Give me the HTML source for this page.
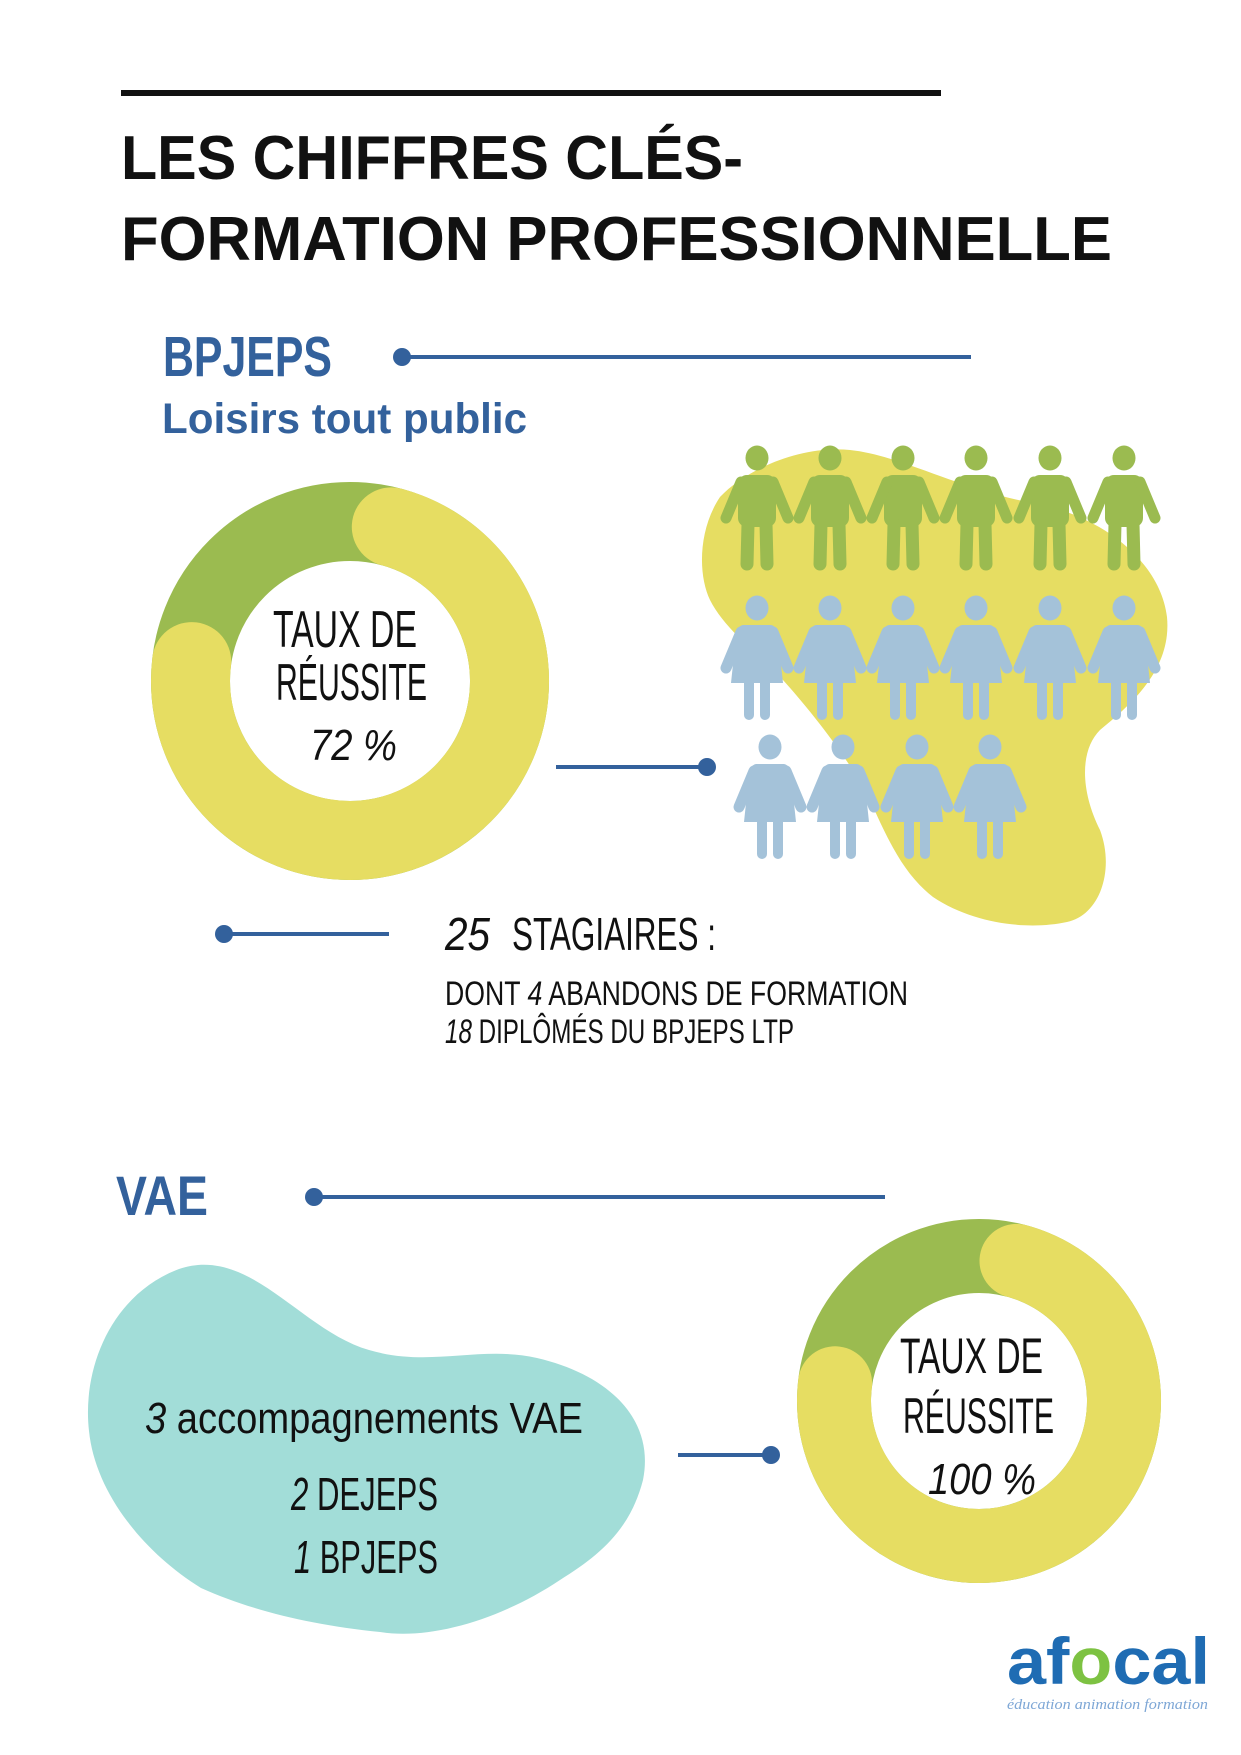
<!DOCTYPE html>
<html><head><meta charset="utf-8"><style>
html,body{margin:0;padding:0;background:#fff;}
svg{display:block;}
.c{font-family:"Liberation Sans Narrow","Liberation Sans",sans-serif;fill:#111;}
</style></head><body>
<svg width="1241" height="1755" viewBox="0 0 1241 1755" xmlns="http://www.w3.org/2000/svg">
<defs>
<g id="man" fill="#9bbb50" stroke="#9bbb50" stroke-linecap="round">
  <ellipse cx="0" cy="12" rx="11.5" ry="12.5" stroke="none"/>
  <rect x="-19" y="29" width="38" height="52" rx="9" stroke="none"/>
  <line x1="-16" y1="36" x2="-31" y2="72" stroke-width="11"/>
  <line x1="16" y1="36" x2="31" y2="72" stroke-width="11"/>
  <line x1="-9" y1="78" x2="-10" y2="118" stroke-width="13"/>
  <line x1="9" y1="78" x2="10" y2="118" stroke-width="13"/>
</g>
<g id="woman" fill="#a4c2d9" stroke="#a4c2d9" stroke-linecap="round">
  <ellipse cx="0" cy="12" rx="11.5" ry="12.5" stroke="none"/>
  <path d="M-14,29 L14,29 Q20,30 21,40 L26,87 L-26,87 L-21,40 Q-20,30 -14,29 Z" stroke="none"/>
  <line x1="-16" y1="36" x2="-31" y2="72" stroke-width="11"/>
  <line x1="16" y1="36" x2="31" y2="72" stroke-width="11"/>
  <line x1="-8" y1="85" x2="-8" y2="119" stroke-width="10"/>
  <line x1="8" y1="85" x2="8" y2="119" stroke-width="10"/>
</g>
</defs>

<!-- top line -->
<rect x="121" y="90" width="820" height="6" fill="#111"/>
<text x="121" y="179" font-family="Liberation Sans,sans-serif" font-weight="bold" font-size="62" fill="#111" textLength="622" lengthAdjust="spacingAndGlyphs">LES CHIFFRES CLÉS-</text>
<text x="121" y="260" font-family="Liberation Sans,sans-serif" font-weight="bold" font-size="62" fill="#111" textLength="991" lengthAdjust="spacingAndGlyphs">FORMATION PROFESSIONNELLE</text>

<!-- BPJEPS -->
<text x="163" y="376" font-family="Liberation Sans,sans-serif" font-weight="bold" font-size="57" fill="#33619c" textLength="169" lengthAdjust="spacingAndGlyphs">BPJEPS</text>
<text x="162" y="433" font-family="Liberation Sans,sans-serif" font-weight="bold" font-size="43" fill="#33619c" textLength="365" lengthAdjust="spacingAndGlyphs">Loisirs tout public</text>
<circle cx="402" cy="357" r="9" fill="#33619c"/>
<rect x="402" y="355" width="569" height="4" fill="#33619c"/>

<!-- donut 1 -->
<circle cx="350" cy="681" r="159.5" fill="none" stroke="#9bbb50" stroke-width="79"/>
<path d="M391.3,526.9 A159.5,159.5 0 1 1 191.7,661.6" fill="none" stroke="#e6dd62" stroke-width="79" stroke-linecap="round"/>
<text class="c" x="273" y="647" font-size="52" textLength="144" lengthAdjust="spacingAndGlyphs">TAUX DE</text>
<text class="c" x="276" y="700" font-size="52" textLength="151" lengthAdjust="spacingAndGlyphs">RÉUSSITE</text>
<text class="c" x="310" y="760" font-size="44" font-style="italic" textLength="87" lengthAdjust="spacingAndGlyphs">72 %</text>

<rect x="556" y="765" width="151" height="4" fill="#33619c"/>
<circle cx="707" cy="767" r="9" fill="#33619c"/>

<!-- yellow blob -->
<path d="M720,497 C745,470 800,445 850,450 C900,455 960,490 1033,503 C1100,515 1160,560 1167,617 C1172,670 1130,705 1100,730 C1080,750 1080,790 1100,830 C1115,870 1100,915 1067,922 C1030,930 975,925 933,897 C905,875 890,845 870,800 C850,760 810,710 783,680 C760,655 725,630 710,600 C698,575 698,530 720,497 Z" fill="#e6dd62"/>

<!-- people -->
<use href="#man" x="757" y="446"/>
<use href="#man" x="830" y="446"/>
<use href="#man" x="903" y="446"/>
<use href="#man" x="976" y="446"/>
<use href="#man" x="1050" y="446"/>
<use href="#man" x="1124" y="446"/>
<use href="#woman" x="757" y="596"/>
<use href="#woman" x="830" y="596"/>
<use href="#woman" x="903" y="596"/>
<use href="#woman" x="976" y="596"/>
<use href="#woman" x="1050" y="596"/>
<use href="#woman" x="1124" y="596"/>
<use href="#woman" x="770" y="735"/>
<use href="#woman" x="843" y="735"/>
<use href="#woman" x="917" y="735"/>
<use href="#woman" x="990" y="735"/>

<!-- stagiaires -->
<circle cx="224" cy="934" r="9" fill="#33619c"/>
<rect x="224" y="932" width="165" height="4" fill="#33619c"/>
<text class="c" x="445" y="950" font-size="46" font-style="italic" textLength="45" lengthAdjust="spacingAndGlyphs">25</text>
<text class="c" x="512" y="950" font-size="46" textLength="204" lengthAdjust="spacingAndGlyphs">STAGIAIRES :</text>
<text class="c" x="445" y="1005" font-size="34" textLength="463" lengthAdjust="spacingAndGlyphs">DONT <tspan font-style="italic">4</tspan> ABANDONS DE FORMATION</text>
<text class="c" x="445" y="1043" font-size="34" textLength="349" lengthAdjust="spacingAndGlyphs"><tspan font-style="italic">18</tspan> DIPLÔMÉS DU BPJEPS LTP</text>

<!-- VAE -->
<text x="116" y="1215" font-family="Liberation Sans,sans-serif" font-weight="bold" font-size="56" fill="#33619c" textLength="92" lengthAdjust="spacingAndGlyphs">VAE</text>
<circle cx="314" cy="1197" r="9" fill="#33619c"/>
<rect x="314" y="1195" width="571" height="4" fill="#33619c"/>

<!-- teal blob -->
<path d="M179,1269 C250,1245 300,1330 369,1350 C430,1368 480,1345 537,1358 C610,1375 655,1420 643,1480 C630,1530 600,1555 560,1580 C500,1620 430,1640 380,1632 C310,1625 250,1610 201,1588 C140,1550 95,1490 89,1431 C82,1370 110,1295 179,1269 Z" fill="#a2ddd8"/>
<text class="c" x="145" y="1433" font-size="44" textLength="438" lengthAdjust="spacingAndGlyphs"><tspan font-style="italic">3</tspan> accompagnements VAE</text>
<text class="c" x="291" y="1510" font-size="46" textLength="147" lengthAdjust="spacingAndGlyphs"><tspan font-style="italic">2</tspan> DEJEPS</text>
<text class="c" x="294" y="1573" font-size="46" textLength="144" lengthAdjust="spacingAndGlyphs"><tspan font-style="italic">1</tspan> BPJEPS</text>

<rect x="678" y="1453" width="93" height="4" fill="#33619c"/>
<circle cx="771" cy="1455" r="9" fill="#33619c"/>

<!-- donut 2 -->
<circle cx="979" cy="1401" r="145" fill="none" stroke="#9bbb50" stroke-width="74"/>
<path d="M1016.5,1260.9 A145,145 0 1 1 835.1,1383.3" fill="none" stroke="#e6dd62" stroke-width="74" stroke-linecap="round"/>
<text class="c" x="900" y="1373" font-size="50" textLength="143" lengthAdjust="spacingAndGlyphs">TAUX DE</text>
<text class="c" x="903" y="1433" font-size="50" textLength="151" lengthAdjust="spacingAndGlyphs">RÉUSSITE</text>
<text class="c" x="928" y="1494" font-size="44" font-style="italic" textLength="108" lengthAdjust="spacingAndGlyphs">100 %</text>

<!-- logo -->
<text x="1007" y="1684" font-family="Liberation Sans,sans-serif" font-weight="bold" font-size="66" fill="#1f6cb3" textLength="203" lengthAdjust="spacingAndGlyphs">af<tspan fill="#7dc242">o</tspan>cal</text>
<text x="1007" y="1709" font-family="Liberation Serif,serif" font-style="italic" font-size="15" fill="#7ea7d6" textLength="201" lengthAdjust="spacingAndGlyphs">éducation animation formation</text>
</svg>
</body></html>
